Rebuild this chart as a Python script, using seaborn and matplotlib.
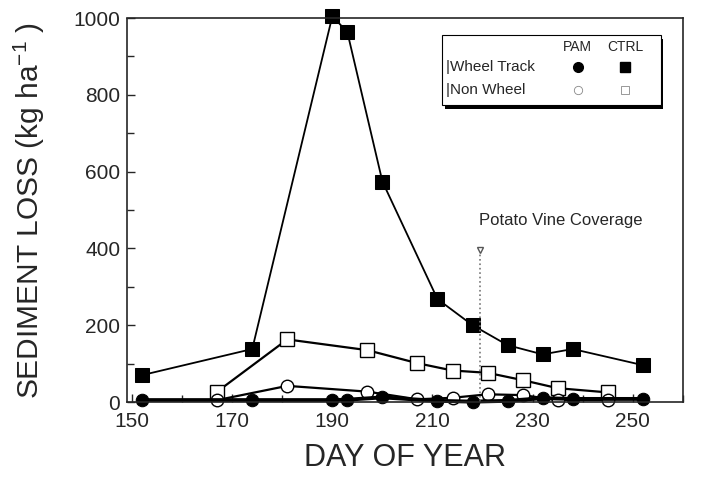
import matplotlib.pyplot as plt
import numpy as np
import pandas as pd
import seaborn as sns
from matplotlib.patches import Rectangle
from matplotlib.ticker import MultipleLocator

# Wheel track sampling days and losses (kg/ha)
wheel_days = [152, 174, 190, 193, 200, 211, 218, 225, 232, 238, 252]
ctrl_wheel = [70, 138, 1005, 963, 574, 268, 200, 148, 124, 138, 96]
pam_wheel = [5, 5, 5, 6, 12, 3, 1, 3, 10, 8, 8]

# Non wheel sampling days and losses (kg/ha)
nonwheel_days = [167, 181, 197, 207, 214, 221, 228, 235, 245]
ctrl_nonwheel = [27, 163, 135, 101, 82, 76, 57, 36, 25]
pam_nonwheel = [5, 42, 27, 7, 11, 20, 18, 5, 5]

vine_day = 219.5
vine_top = 396
vine_label = "Potato Vine Coverage"

x_ticks = [150, 170, 190, 210, 230, 250]
y_ticks = [0, 200, 400, 600, 800, 1000]

sns.set_style("ticks")
plt.rcParams['font.family'] = ['Liberation Sans', 'DejaVu Sans']

fig = plt.figure(figsize=(7.18, 4.8), dpi=100)
ax = fig.add_axes([0.177, 0.1625, 0.774, 0.8])

wheel = pd.DataFrame({'day': wheel_days, 'ctrl': ctrl_wheel, 'pam': pam_wheel})
nonwheel = pd.DataFrame({'day': nonwheel_days, 'ctrl': ctrl_nonwheel, 'pam': pam_nonwheel})

common = dict(color='black', clip_on=False, ax=ax, legend=False)
sns.lineplot(data=nonwheel, x='day', y='ctrl', marker='s', markersize=10,
             markerfacecolor='white', markeredgecolor='black', markeredgewidth=1,
             linewidth=1.6, **common)
sns.lineplot(data=wheel, x='day', y='ctrl', marker='s', markersize=10,
             markerfacecolor='black', markeredgecolor='black',
             linewidth=1.3, **common)
sns.lineplot(data=nonwheel, x='day', y='pam', marker='o', markersize=9,
             markerfacecolor='white', markeredgecolor='black', markeredgewidth=1,
             linewidth=1.6, **common)
sns.lineplot(data=wheel, x='day', y='pam', marker='o', markersize=9,
             markerfacecolor='black', markeredgecolor='black',
             linewidth=2.8, **common)

# Vine coverage marker
ax.plot([vine_day, vine_day], [0, vine_top], color='#777777', linestyle=':', linewidth=1.2)
ax.plot([vine_day], [vine_top], marker='v', markersize=5, markerfacecolor='white',
        markeredgecolor='#555555', linestyle='none')
ax.text(vine_day - 0.3, vine_top + 76, vine_label, fontsize=12, ha='left', va='center')

ax.set_xlim(149, 260)
ax.set_ylim(0, 1000)
ax.set_xticks(x_ticks)
ax.set_yticks(y_ticks)
ax.xaxis.set_minor_locator(MultipleLocator(10))
ax.yaxis.set_minor_locator(MultipleLocator(100))
ax.tick_params(which='both', direction='in', top=False, right=False, labelsize=15)
ax.tick_params(axis='x', pad=7)
ax.tick_params(axis='y', pad=5)
ax.tick_params(which='major', length=6, width=1)
ax.tick_params(which='minor', length=5, width=1)
for side in ['top', 'right', 'left', 'bottom']:
    ax.spines[side].set_visible(True)
    ax.spines[side].set_linewidth(1.2)
ax.spines['right'].set_linestyle((0, (4, 1)))
ax.spines['left'].set_linestyle((0, (6, 1)))

ax.set_xlabel("DAY OF YEAR", fontsize=22, labelpad=9)
ax.set_ylabel("SEDIMENT LOSS (kg ha$^{\\mathregular{-1}}$ )", fontsize=21.5, labelpad=19)

# Hand-made legend table
x0, y0, w, h = 0.567, 0.773, 0.393, 0.183
ax.add_patch(Rectangle((x0 + 0.005, y0 - 0.01), w, h, transform=ax.transAxes,
                       facecolor='black', edgecolor='none', zorder=5))
ax.add_patch(Rectangle((x0, y0), w, h, transform=ax.transAxes,
                       facecolor='white', edgecolor='black', linewidth=0.8, zorder=6))
col_pam, col_ctrl = 0.811, 0.896
row_head, row_wheel, row_non = 0.924, 0.872, 0.812
ax.text(col_pam, row_head, "PAM", transform=ax.transAxes, fontsize=10,
        ha='center', va='center', zorder=7)
ax.text(col_ctrl, row_head, "CTRL", transform=ax.transAxes, fontsize=10,
        ha='center', va='center', zorder=7)
ax.text(x0 + 0.006, row_wheel, "|Wheel Track", transform=ax.transAxes, fontsize=11,
        ha='left', va='center', zorder=7)
ax.text(x0 + 0.006, row_non, "|Non Wheel", transform=ax.transAxes, fontsize=11,
        ha='left', va='center', zorder=7)
ax.plot([col_pam], [row_wheel], 'o', color='black', markersize=7, transform=ax.transAxes, zorder=7)
ax.plot([col_ctrl], [row_wheel], 's', color='black', markersize=7, transform=ax.transAxes, zorder=7)
ax.plot([col_pam], [row_non], 'o', markerfacecolor='white', markeredgecolor='#888888',
        markersize=6, markeredgewidth=0.6, transform=ax.transAxes, zorder=7)
ax.plot([col_ctrl], [row_non], 's', markerfacecolor='white', markeredgecolor='#888888',
        markersize=6, markeredgewidth=0.6, transform=ax.transAxes, zorder=7)

fig.savefig("out.png", dpi=100)
